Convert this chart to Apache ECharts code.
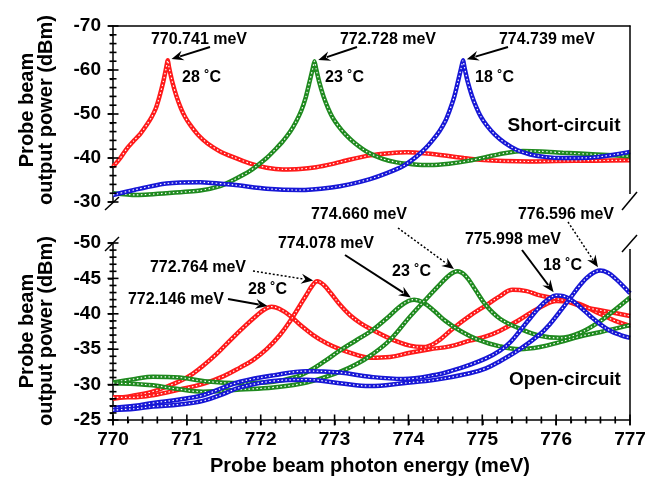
<!DOCTYPE html>
<html>
<head>
<meta charset="utf-8">
<script src="https://cdn.jsdelivr.net/npm/echarts@6/dist/echarts.min.js"></script>
<style>
html,body{margin:0;padding:0;background:#fff}
#main{width:667px;height:482px}
</style>
</head>
<body>
<div id="main"></div>
<script>
// short-circuit (top panel), [energy meV, power dBm]
var scRed = [[770,-38],[770.1,-40],[770.19,-42.2],[770.28,-43.9],[770.37,-45.5],[770.46,-47.6],[770.52,-49.2],[770.58,-51.3],[770.63,-54],[770.68,-57.3],[770.72,-60.5],[770.741,-62.2],[770.76,-60.5],[770.8,-57.5],[770.86,-54],[770.92,-51.3],[770.98,-49.2],[771.05,-47.4],[771.15,-45.3],[771.28,-43.3],[771.45,-41.5],[771.63,-40.2],[771.85,-38.8],[772.08,-37.8],[772.3,-37.4],[772.53,-37.5],[772.75,-37.9],[772.96,-38.6],[773.2,-39.6],[773.48,-40.6],[773.75,-41.1],[773.98,-41.3],[774.25,-41],[774.52,-40.5],[774.75,-40],[774.97,-39.6],[775.3,-39.3],[775.64,-39.2],[776,-39.3],[776.5,-39.4],[777,-39.5]];
var scGreen = [[770,-32],[770.3,-31.6],[770.72,-32],[771.18,-32.6],[771.45,-33.6],[771.63,-35],[771.85,-37],[772.08,-40],[772.2,-42],[772.3,-43.8],[772.4,-46],[772.48,-48.3],[772.55,-50.8],[772.61,-53.8],[772.66,-57.2],[772.705,-60.4],[772.728,-62],[772.75,-60.3],[772.79,-57.4],[772.85,-54],[772.91,-51.4],[772.97,-49.3],[773.05,-47.3],[773.15,-45.3],[773.28,-43.3],[773.45,-41.3],[773.65,-39.8],[773.84,-39],[774.05,-38.6],[774.29,-38.4],[774.55,-38.7],[774.83,-39.4],[775.1,-40.4],[775.3,-41.1],[775.55,-41.6],[775.8,-41.5],[776.09,-41.2],[776.55,-40.8],[777,-40.4]];
var scBlue = [[770,-31.6],[770.3,-32.8],[770.72,-34.2],[771.18,-34.5],[771.63,-33.9],[772.08,-33],[772.53,-32.7],[772.96,-33.3],[773.2,-34],[773.48,-35.2],[773.7,-36.5],[773.93,-38.2],[774.1,-40.2],[774.22,-42],[774.32,-43.9],[774.42,-46.1],[774.5,-48.4],[774.56,-50.9],[774.62,-53.9],[774.67,-57.3],[774.715,-60.5],[774.739,-62.2],[774.76,-60.5],[774.8,-57.5],[774.86,-54.1],[774.92,-51.5],[774.98,-49.4],[775.06,-47.4],[775.17,-45.3],[775.3,-43.5],[775.47,-41.8],[775.65,-40.8],[775.87,-40.2],[776.09,-40],[776.32,-40],[776.55,-40.2],[776.8,-40.8],[777,-41.4]];

// open-circuit (bottom panel)
var ocRedA = [[770,-28],[770.25,-28.4],[770.5,-28.9],[770.75,-29.8],[771,-31],[771.2,-32.5],[771.4,-34.3],[771.6,-36.4],[771.8,-38.4],[771.95,-39.8],[772.05,-40.6],[772.146,-41],[772.25,-40.7],[772.4,-39.7],[772.55,-38.3],[772.71,-37],[772.9,-35.8],[773.07,-35],[773.3,-34.2],[773.48,-33.8],[773.75,-33.9],[774.02,-34.5],[774.29,-35],[774.56,-35.4],[774.83,-36.2],[775.05,-36.8],[775.24,-37.6],[775.51,-39.2],[775.78,-40.9],[776.01,-41.8],[776.28,-41.5],[776.59,-40],[776.8,-39],[777,-38.3]];
var ocRedB = [[770,-28.2],[770.25,-28.2],[770.54,-28.5],[770.9,-29.3],[771.22,-30.1],[771.5,-31.2],[771.72,-32.4],[771.9,-33.5],[772.08,-35],[772.26,-37],[772.4,-39],[772.52,-41],[772.62,-42.7],[772.7,-44],[772.764,-44.6],[772.85,-44.1],[772.95,-42.9],[773.08,-41.2],[773.21,-39.8],[773.35,-38.7],[773.5,-37.8],[773.75,-36.5],[774.02,-35.5],[774.2,-35.3],[774.38,-36],[774.6,-37.9],[774.83,-39.7],[775.05,-41.2],[775.24,-42.5],[775.41,-43.4],[775.6,-43.2],[775.78,-42.6],[776.1,-41.9],[776.36,-41],[776.7,-40.3],[777,-39.7]];
var ocGreenA = [[770,-30.3],[770.3,-30.8],[770.54,-31.1],[770.9,-31],[771.22,-30.5],[771.72,-30.2],[772.17,-30.4],[772.45,-31],[772.65,-31.9],[772.85,-33.2],[773.07,-34.8],[773.3,-36.3],[773.5,-37.6],[773.7,-39.3],[773.88,-41],[774,-41.8],[774.078,-42],[774.2,-41.6],[774.35,-40.4],[774.5,-39],[774.7,-37.6],[774.93,-36.4],[775.24,-35.4],[775.51,-35],[775.78,-35.3],[776.05,-36],[776.32,-36.8],[776.59,-37.4],[777,-38.4]];
var ocGreenB = [[770,-30.2],[770.3,-30.1],[770.54,-29.9],[770.86,-29.4],[771.22,-29],[771.72,-29.3],[772.17,-29.6],[772.62,-30.3],[773.07,-31.8],[773.3,-32.9],[773.5,-34.2],[773.75,-36.3],[774.02,-39.6],[774.25,-42.2],[774.43,-44.2],[774.56,-45.5],[774.66,-46],[774.77,-45.4],[774.9,-43.5],[775.05,-41.2],[775.24,-39.3],[775.51,-37.9],[775.78,-36.9],[776.05,-36.6],[776.32,-37.3],[776.59,-38.9],[776.8,-40.6],[777,-42.3]];
var ocBlueA = [[770,-26.7],[770.3,-27],[770.54,-27.4],[770.9,-27.9],[771.22,-28.5],[771.5,-29.6],[771.72,-30.4],[772.17,-31.3],[772.62,-31.9],[773.07,-31.7],[773.48,-31.1],[773.93,-30.8],[774.38,-31.4],[774.6,-32],[774.83,-32.8],[775.05,-33.7],[775.24,-34.8],[775.38,-36],[775.51,-37.6],[775.65,-39.4],[775.78,-41],[775.9,-42.1],[775.998,-42.6],[776.1,-42.5],[776.2,-42],[776.32,-41],[776.46,-39.7],[776.6,-38.5],[776.73,-37.6],[776.87,-37],[777,-36.6]];
var ocBlueB = [[770,-26.4],[770.3,-26.6],[770.54,-26.9],[770.9,-27.2],[771.22,-27.7],[771.5,-28.7],[771.72,-29.6],[772.17,-30.5],[772.62,-30.7],[773.07,-30.2],[773.48,-29.8],[773.93,-30.2],[774.38,-30.7],[774.83,-31.6],[775.05,-32.3],[775.24,-33.3],[775.51,-35],[775.78,-37.1],[775.92,-38.6],[776.05,-40.3],[776.19,-42.2],[776.32,-44],[776.45,-45.4],[776.596,-46.1],[776.7,-45.8],[776.8,-45],[776.9,-44],[777,-42.9]];

// peak labels
var scPeaks = [[770.741,-62.2],[772.728,-62],[774.739,-62.2]];
var ocPeaks = [[772.146,-41],[772.764,-44.6],[774.078,-42],[774.660,-46],[775.998,-42.6],[776.596,-46.1]];
var temps = ['28', '23', '18'];

// axis ranges: [min, max, major step, minor divisions]
var xRange = [770, 777, 1, 5];
var scRange = [-70, -30, 10, 5];
var ocRange = [-50, -25, 5, 5];

var RED = '#ff1a1a', GREEN = '#1f8a1f', BLUE = '#1717d6';
var FONT = 'Liberation Sans';

var chart = echarts.init(document.getElementById('main'));

function curve(data, color, idx, sm) {
	return [{
		type: 'line', data: data, xAxisIndex: idx, yAxisIndex: idx,
		showSymbol: false, smooth: sm, silent: true,
		lineStyle: {color: color, width: 4.5}
	}, {
		type: 'line', data: data, xAxisIndex: idx, yAxisIndex: idx,
		showSymbol: false, smooth: sm, silent: true,
		lineStyle: {color: '#fff', width: 1.2, type: [1.5, 2.5]}
	}];
}

var tickFont = {fontFamily: FONT, fontWeight: 'bold', fontSize: 19, color: '#000'};
var axLine = {show: true, onZero: false, lineStyle: {color: '#000', width: 1.5}};
var nativeTick = {show: true, length: 5, lineStyle: {color: '#000', width: 1.5}};
var nativeMinor = {show: true, splitNumber: 5, length: 3, lineStyle: {color: '#000', width: 1.2}};

function yAx(grid, r) {
	return {
		type: 'value', gridIndex: grid, position: 'left', inverse: true,
		min: r[0], max: r[1], interval: r[2],
		axisLine: axLine, axisTick: nativeTick, minorTick: nativeMinor,
		axisLabel: Object.assign({margin: 12}, tickFont), splitLine: {show: false}
	};
}

var series = [].concat(
	curve(scRed, RED, 0, 0.2), curve(scGreen, GREEN, 0, 0.2), curve(scBlue, BLUE, 0, 0.2),
	curve(ocRedA, RED, 1, 0.4), curve(ocRedB, RED, 1, 0.4),
	curve(ocGreenA, GREEN, 1, 0.4), curve(ocGreenB, GREEN, 1, 0.4),
	curve(ocBlueA, BLUE, 1, 0.4), curve(ocBlueB, BLUE, 1, 0.4)
);

chart.setOption({
	animation: false,
	grid: [
		{left: 113, top: 26, width: 517, height: 176},
		{left: 113, top: 243, width: 517, height: 177}
	],
	xAxis: [
		{type: 'value', gridIndex: 0, position: 'top', min: xRange[0], max: xRange[1],
			axisLine: axLine, axisTick: {show: false}, axisLabel: {show: false}, splitLine: {show: false}},
		{type: 'value', gridIndex: 1, position: 'bottom', min: xRange[0], max: xRange[1], interval: xRange[2],
			axisLine: axLine, axisTick: nativeTick, minorTick: nativeMinor,
			axisLabel: Object.assign({margin: 10}, tickFont), splitLine: {show: false}}
	],
	yAxis: [yAx(0, scRange), yAx(1, ocRange)],
	series: series
});

// annotations
function txt(s, x, y, size, align) {
	return {type: 'text', x: x, y: y, z: 100, style: {text: s, fontFamily: FONT, fontWeight: 'bold',
		fontSize: size || 16, fill: '#000', align: align || 'center', verticalAlign: 'middle'}};
}
function seg(x1, y1, x2, y2, w) {
	return {type: 'line', z: 100, shape: {x1: x1, y1: y1, x2: x2, y2: y2}, style: {stroke: '#000', lineWidth: w || 1.5}};
}
function arrow(sx, sy, peak, idx, dotted) {
	var p = chart.convertToPixel({xAxisIndex: idx, yAxisIndex: idx}, peak);
	var dx = p[0] - sx, dy = p[1] - sy, L = Math.sqrt(dx * dx + dy * dy);
	var ux = dx / L, uy = dy / L;
	var tx = p[0] - ux * 4, ty = p[1] - uy * 4;
	var hl = 12, hw = 5;
	var bx = tx - ux * hl, by = ty - uy * hl;
	return [{
		type: 'line', z: 100, shape: {x1: sx, y1: sy, x2: bx + ux * 3, y2: by + uy * 3},
		style: {stroke: '#000', lineWidth: dotted ? 1.5 : 2, lineDash: dotted ? [2, 2] : null}
	}, {
		type: 'polygon', z: 100,
		shape: {points: [[tx, ty], [bx - uy * hw, by + ux * hw], [bx + ux * 4, by + uy * 4], [bx + uy * hw, by - ux * hw]]},
		style: {fill: '#000'}
	}];
}
function meV(v) { return v.toFixed(3) + ' meV'; }

// ticks crossing the axis line, placed through the axis scale
function yTicks(idx, r) {
	var out = [], n = Math.round((r[1] - r[0]) / r[2] * r[3]);
	for (var i = 0; i <= n; i++) {
		var v = r[0] + i * r[2] / r[3];
		var p = chart.convertToPixel({xAxisIndex: idx, yAxisIndex: idx}, [xRange[0], v]);
		var len = i % r[3] === 0 ? 5.5 : 3.5;
		out.push(seg(p[0] - len, p[1], p[0] + len, p[1], 1.6));
	}
	return out;
}
function xTicks(idx, yv) {
	var r = xRange, out = [], n = Math.round((r[1] - r[0]) / r[2] * r[3]);
	for (var i = 0; i <= n; i++) {
		var v = r[0] + i * r[2] / r[3];
		var p = chart.convertToPixel({xAxisIndex: idx, yAxisIndex: idx}, [v, yv]);
		var len = i % r[3] === 0 ? 5.5 : 3.5;
		out.push(seg(p[0], p[1] - len, p[0], p[1] + len, 1.6));
	}
	return out;
}

var g = [];
// top panel
g.push(txt(meV(scPeaks[0][0]), 199, 40), txt(meV(scPeaks[1][0]), 388, 40), txt(meV(scPeaks[2][0]), 547, 40));
g = g.concat(arrow(210, 47, scPeaks[0], 0, false), arrow(357, 47, scPeaks[1], 0, false), arrow(508, 47, scPeaks[2], 0, false));
g.push(txt(temps[0] + ' ˚C', 182, 78, 16, 'left'), txt(temps[1] + ' ˚C', 325, 78, 16, 'left'), txt(temps[2] + ' ˚C', 475, 78, 16, 'left'));
g.push(txt('Short-circuit', 564, 126, 19));
// bottom panel
g.push(txt(meV(ocPeaks[0][0]), 176, 300), txt(meV(ocPeaks[1][0]), 198, 268),
	txt(meV(ocPeaks[2][0]), 326, 244), txt(meV(ocPeaks[3][0]), 359, 215),
	txt(meV(ocPeaks[4][0]), 513, 240), txt(meV(ocPeaks[5][0]), 566, 215));
g = g.concat(arrow(228, 299, ocPeaks[0], 1, false), arrow(253, 271, ocPeaks[1], 1, true),
	arrow(345, 255, ocPeaks[2], 1, false), arrow(398, 228, ocPeaks[3], 1, true),
	arrow(522, 250, ocPeaks[4], 1, false), arrow(568, 222, ocPeaks[5], 1, true));
g.push(txt(temps[0] + ' ˚C', 248, 290, 16, 'left'), txt(temps[1] + ' ˚C', 392, 272, 16, 'left'), txt(temps[2] + ' ˚C', 543, 266, 16, 'left'));
g.push(txt('Open-circuit', 565, 380, 19));
// axis titles
g.push(txt('Probe beam photon energy (meV)', 370, 466, 20));
g.push({type: 'text', x: 37, y: 110, rotation: Math.PI / 2, z: 100,
	style: {text: 'Probe beam\noutput power (dBm)', fontFamily: FONT, fontWeight: 'bold', fontSize: 20,
		lineHeight: 19, fill: '#000', align: 'center', verticalAlign: 'middle'}});
g.push({type: 'text', x: 37, y: 331, rotation: Math.PI / 2, z: 100,
	style: {text: 'Probe beam\noutput power (dBm)', fontFamily: FONT, fontWeight: 'bold', fontSize: 20,
		lineHeight: 19, fill: '#000', align: 'center', verticalAlign: 'middle'}});
// right borders and axis breaks
g.push(seg(630, 25.5, 630, 194), seg(630, 249, 630, 420.5));
g.push(seg(105, 210, 119, 197), seg(105, 251, 119, 237), seg(622, 210, 637, 192), seg(622, 252, 637, 235));
// axis ticks last
g = g.concat(yTicks(0, scRange), yTicks(1, ocRange), xTicks(1, ocRange[1]));
g.forEach(function (el, i) { el.id = 'g' + i; });

chart.setOption({graphic: {elements: g}});
</script>
</body>
</html>
